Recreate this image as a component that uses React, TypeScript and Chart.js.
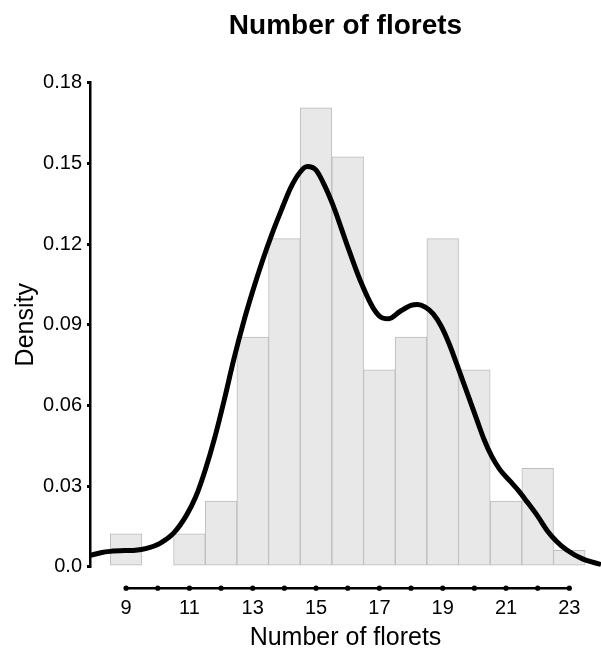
import React, { useEffect, useRef } from 'react';
import { Chart, registerables } from 'chart.js';

Chart.register(...registerables);

// Histogram bins (centre of each 1-unit bin) and their densities
const binCenters = [9, 10, 11, 12, 13, 14, 15, 16, 17, 18, 19, 20, 21, 22, 23];
const binDensity = [0.0122, 0, 0.0122, 0.0244, 0.0854, 0.122, 0.1707, 0.1524, 0.0732, 0.0854, 0.122, 0.0732, 0.0244, 0.0366, 0.0061];

// Kernel density curve
const kdeX = [7.86, 8.2, 8.5, 9.0, 9.3, 9.65, 10.07, 10.5, 10.9, 11.2, 11.5, 11.8, 12.1, 12.4, 12.7, 13.0, 13.3, 13.6, 13.9, 14.2, 14.5, 14.72, 15.0, 15.3, 15.55, 15.97, 16.39, 16.81, 17.1, 17.3, 17.66, 18.0, 18.2, 18.45, 18.7, 18.95, 19.2, 19.55, 20.08, 20.3, 20.55, 20.8, 21.13, 21.4, 21.66, 22.0, 22.29, 22.6, 22.92, 23.4, 24.0];
const kdeY = [0.0042, 0.0052, 0.0057, 0.006, 0.0061, 0.0068, 0.0087, 0.0125, 0.019, 0.026, 0.036, 0.048, 0.062, 0.077, 0.0905, 0.1025, 0.1135, 0.1235, 0.1325, 0.141, 0.1468, 0.1488, 0.1475, 0.141, 0.134, 0.12, 0.1066, 0.0961, 0.0925, 0.0922, 0.095, 0.0972, 0.0975, 0.0965, 0.094, 0.0895, 0.083, 0.0719, 0.0546, 0.0475, 0.041, 0.0362, 0.0318, 0.0282, 0.0242, 0.0188, 0.0136, 0.0094, 0.0062, 0.003, 0.0008];

const xTicks = [9, 10, 11, 12, 13, 14, 15, 16, 17, 18, 19, 20, 21, 22, 23];
const yTicks = [0, 0.03, 0.06, 0.09, 0.12, 0.15, 0.18];

const FONT = '"Liberation Sans", Arial, Helvetica, sans-serif';

const offsetXAxis = {
  id: 'offsetXAxis',
  afterDraw(chart: any) {
    const { ctx, scales } = chart;
    const x = scales.x;
    const y = chart.chartArea.bottom + 21.5;
    ctx.save();
    ctx.strokeStyle = '#000';
    ctx.lineWidth = 2.5;
    ctx.beginPath();
    ctx.moveTo(x.getPixelForValue(xTicks[0]), y);
    ctx.lineTo(x.getPixelForValue(xTicks[xTicks.length - 1]), y);
    ctx.stroke();
    ctx.fillStyle = '#000';
    xTicks.forEach((v) => {
      ctx.beginPath();
      ctx.arc(x.getPixelForValue(v), y, 2.6, 0, Math.PI * 2);
      ctx.fill();
    });
    ctx.restore();
  },
};

export default function App() {
  const ref = useRef<HTMLCanvasElement>(null);

  useEffect(() => {
    if (!ref.current) return;
    const chart = new Chart(ref.current, {
      type: 'bar',
      data: {
        datasets: [
          {
            type: 'line',
            data: kdeX.map((x, i) => ({ x, y: kdeY[i] })),
            borderColor: '#000',
            borderWidth: 5,
            pointRadius: 0,
            cubicInterpolationMode: 'monotone',
            fill: false,
            order: 1,
          } as any,
          {
            type: 'bar',
            data: binCenters.map((x, i) => ({ x, y: binDensity[i] })),
            backgroundColor: '#e8e8e8',
            borderColor: '#bdbdbd',
            borderWidth: 1,
            borderSkipped: false,
            barPercentage: 1,
            categoryPercentage: 1,
            order: 2,
          } as any,
        ],
      },
      options: {
        animation: false,
        responsive: false,
        maintainAspectRatio: false,
        devicePixelRatio: 1,
        layout: { padding: 0 },
        plugins: {
          legend: { display: false },
          tooltip: { enabled: false },
          title: {
            display: true,
            text: 'Number of florets',
            color: '#000',
            font: { family: FONT, size: 28, weight: 'bold' },
            padding: { top: 9, bottom: 40.1 },
            fullSize: false,
          } as any,
        },
        scales: {
          x: {
            type: 'linear',
            min: 7.86,
            max: 24.0,
            offset: false,
            grid: { display: false, drawTicks: true, tickLength: 27 },
            border: { display: false },
            afterBuildTicks: (s: any) => {
              s.ticks = xTicks.map((v) => ({ value: v }));
            },
            afterFit: (s: any) => {
              s.height = 86.3;
            },
            ticks: {
              autoSkip: false,
              maxRotation: 0,
              padding: 3,
              color: '#000',
              font: { family: FONT, size: 20 },
              callback: (v: any) => (Number(v) % 2 === 1 ? String(v) : ''),
            },
            title: {
              display: true,
              text: 'Number of florets',
              color: '#000',
              font: { family: FONT, size: 25 },
              padding: { top: 0, bottom: 0 },
            },
          },
          y: {
            type: 'linear',
            min: 0,
            max: 0.18,
            grid: { drawOnChartArea: false, drawTicks: true, tickLength: 3, lineWidth: 3, color: '#000' },
            border: { display: true, color: '#000', width: 2.5 },
            afterBuildTicks: (s: any) => {
              s.ticks = yTicks.map((v) => ({ value: v }));
            },
            afterFit: (s: any) => {
              s.width = 90;
            },
            ticks: {
              padding: 5,
              color: '#000',
              font: { family: FONT, size: 20 },
              callback: (v: any) => (Number(v) === 0 ? '0.0' : Number(v).toFixed(2)),
            },
            title: {
              display: true,
              text: 'Density',
              color: '#000',
              font: { family: FONT, size: 25 },
              padding: { top: 11, bottom: 0 },
            },
          },
        },
      },
      plugins: [offsetXAxis],
    });
    return () => chart.destroy();
  }, []);

  return (
    <div style={{ position: 'absolute', left: 0, top: 0, width: 601, height: 653, overflow: 'hidden' }}>
      <canvas ref={ref} width={601} height={653} style={{ display: 'block', width: 601, height: 653 }} />
    </div>
  );
}
